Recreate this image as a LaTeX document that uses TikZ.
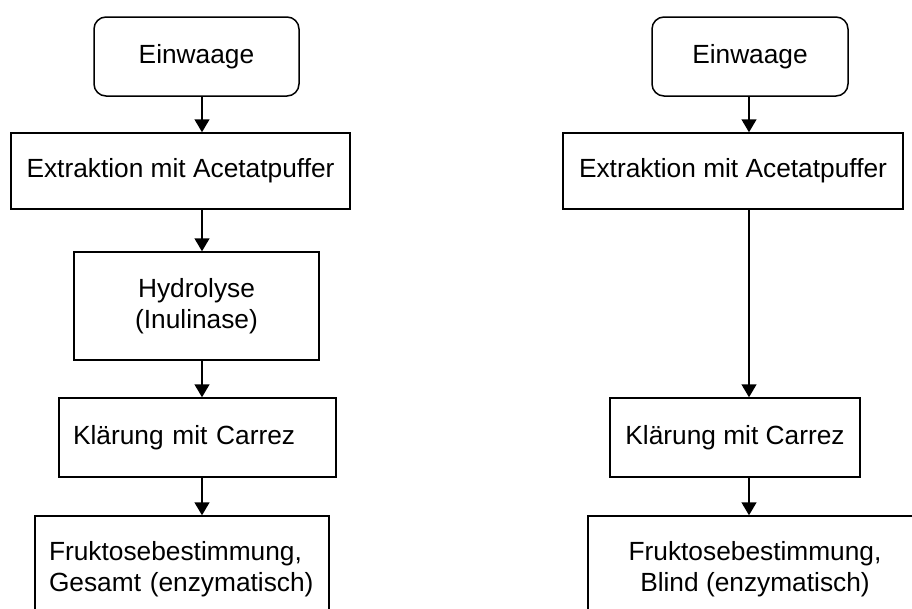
\documentclass[tikz,border=0pt]{standalone}
\usepackage{fontspec}
\setmainfont{Liberation Sans}
\usetikzlibrary{arrows.meta}
\tikzset{
  box/.style={draw, line width=1.5pt, font=\fontsize{26.3}{31.6}\selectfont, align=center, inner sep=0pt},
  startbox/.style={box, rounded corners=12pt},
  leftbox/.style={box, inner xsep=14pt, align=left},
  flow/.style={draw, line width=1.5pt, -{Triangle[length=13pt,width=15pt]}}
}
\begin{document}
\begin{tikzpicture}[x=1pt,y=-1pt]
\useasboundingbox (0,0) rectangle (912,608);
\clip (0,0) rectangle (912,608);
\coordinate (col1) at (202,0);
\coordinate (col2) at (749,0);
% Gesamt
\node[startbox, minimum width=205pt, minimum height=79pt] (ein1) at (196.5,56.5) {Einwaage};
\node[box, minimum width=339pt, minimum height=76pt] (ext1) at (180.5,171) {Extraktion mit Acetatpuffer};
\node[box, minimum width=245pt, minimum height=108pt] (hyd1) at (196.5,306) {Hydrolyse\\(Inulinase)};
\node[leftbox, text width=249pt, minimum height=79pt] (kla1) at (197.5,437.5) {Klärung mit Carrez};
\node[leftbox, text width=266pt, minimum height=106pt] (fru1) at (182,569) {Fruktosebestimmung,\\Gesamt (enzymatisch)};
% Blind
\node[startbox, minimum width=196pt, minimum height=79pt] (ein2) at (750,56.5) {Einwaage};
\node[box, minimum width=340pt, minimum height=76pt] (ext2) at (733,171) {Extraktion mit Acetatpuffer};
\node[box, minimum width=250pt, minimum height=79pt] (kla2) at (735,437.5) {Klärung mit Carrez};
\node[box, minimum width=334pt, minimum height=106pt] (fru2) at (755,569) {Fruktosebestimmung,\\Blind (enzymatisch)};

\path[flow] (ein1.south -| col1) -- (ext1.north -| col1);
\path[flow] (ext1.south -| col1) -- (hyd1.north -| col1);
\path[flow] (hyd1.south -| col1) -- (kla1.north -| col1);
\path[flow] (kla1.south -| col1) -- (fru1.north -| col1);

\path[flow] (ein2.south -| col2) -- (ext2.north -| col2);
\path[flow] (ext2.south -| col2) -- (kla2.north -| col2);
\path[flow] (kla2.south -| col2) -- (fru2.north -| col2);
\end{tikzpicture}
\end{document}
